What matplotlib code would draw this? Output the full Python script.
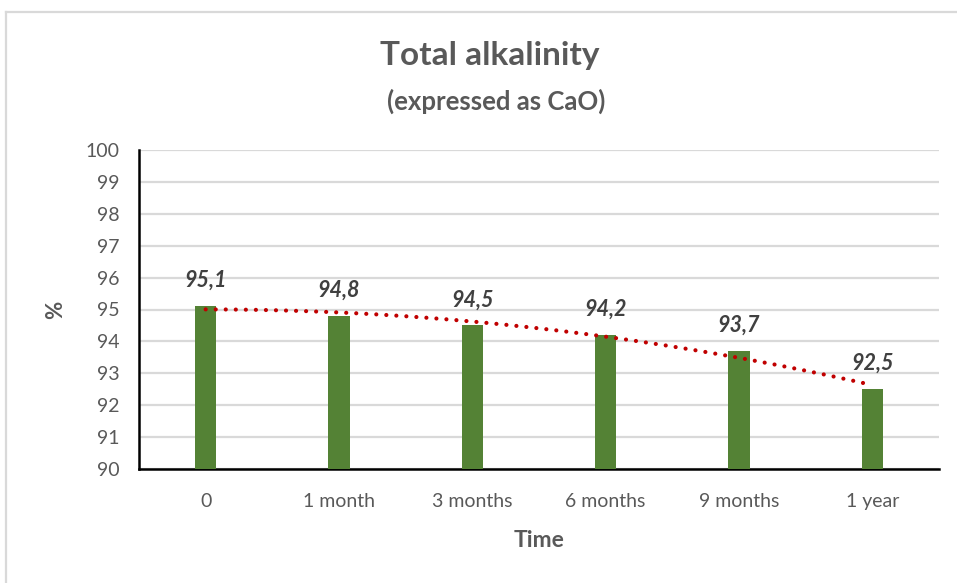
import numpy as np
import matplotlib
matplotlib.use("Agg")
import matplotlib.pyplot as plt
from matplotlib.lines import Line2D

# Data
categories = ["0", "1 month", "3 months", "6 months", "9 months", "1 year"]
alkalinity = [95.1, 94.8, 94.5, 94.2, 93.7, 92.5]
value_labels = ["95,1", "94,8", "94,5", "94,2", "93,7", "92,5"]
y_ticks = list(range(90, 101))

plt.rcParams["font.family"] = ["Lato", "DejaVu Sans"]
TEXT = "#595959"
LABEL = "#404040"
BAR = "#548235"
TREND = "#C00000"
GRID = "#D9D9D9"

W, H = 957, 583
fig = plt.figure(figsize=(W / 100, H / 100), dpi=100)
fig.patch.set_facecolor("white")

# Chart-area frame (top and left edges visible)
fig.add_artist(Line2D([6 / W, 1.0], [1 - 12 / H, 1 - 12 / H], transform=fig.transFigure,
                      color=GRID, lw=1.6))
fig.add_artist(Line2D([6 / W, 6 / W], [0.0, 1 - 12 / H], transform=fig.transFigure,
                      color=GRID, lw=1.6))

ax = fig.add_axes([139 / W, 1 - 469 / H, 800 / W, 319 / H])
x = np.arange(len(categories))
ax.bar(x, alkalinity, width=0.162, color=BAR, zorder=3)

# Polynomial (order 2) trendline
coef = np.polyfit(x, alkalinity, 2)
xs = np.linspace(x[0], x[-1], 300)
ax.plot(xs, np.polyval(coef, xs), color=TREND, lw=3.0,
        dashes=(0.01, 2.4), dash_capstyle="round", zorder=4)

for xi, v, lab in zip(x, alkalinity, value_labels):
    ax.annotate(lab, (xi, v), xytext=(0, 18.5), textcoords="offset points",
                ha="center", va="center", fontsize=15.5, fontweight="bold",
                fontstyle="italic", color=LABEL, zorder=5)

ax.set_xlim(-0.5, len(categories) - 0.5)
ax.set_ylim(90, 100)
ax.set_yticks(y_ticks)
ax.set_xticks(x)
ax.set_xticklabels(categories)
ax.tick_params(axis="both", length=0, labelsize=14, colors=TEXT)
ax.tick_params(axis="y", pad=14)
ax.tick_params(axis="x", pad=17)
ax.yaxis.grid(True, color=GRID, lw=1.6, zorder=0)
ax.set_axisbelow(True)
for s in ("top", "right"):
    ax.spines[s].set_visible(False)
for s in ("left", "bottom"):
    ax.spines[s].set_color("#000000")
    ax.spines[s].set_linewidth(1.8)

ax.set_xlabel("Time", fontsize=16.5, fontweight="bold", color=TEXT, labelpad=15)
ax.set_ylabel("%", fontsize=16, fontweight="bold", color=TEXT, labelpad=14)

fig.text(490 / W, 1 - 56 / H, "Total alkalinity", ha="center", va="center",
         fontsize=24, fontweight="bold", color=TEXT)
fig.text(496 / W, 1 - 101 / H, "(expressed as CaO)", ha="center", va="center",
         fontsize=18.5, fontweight="bold", color=TEXT)

fig.savefig("out.png", dpi=100)
